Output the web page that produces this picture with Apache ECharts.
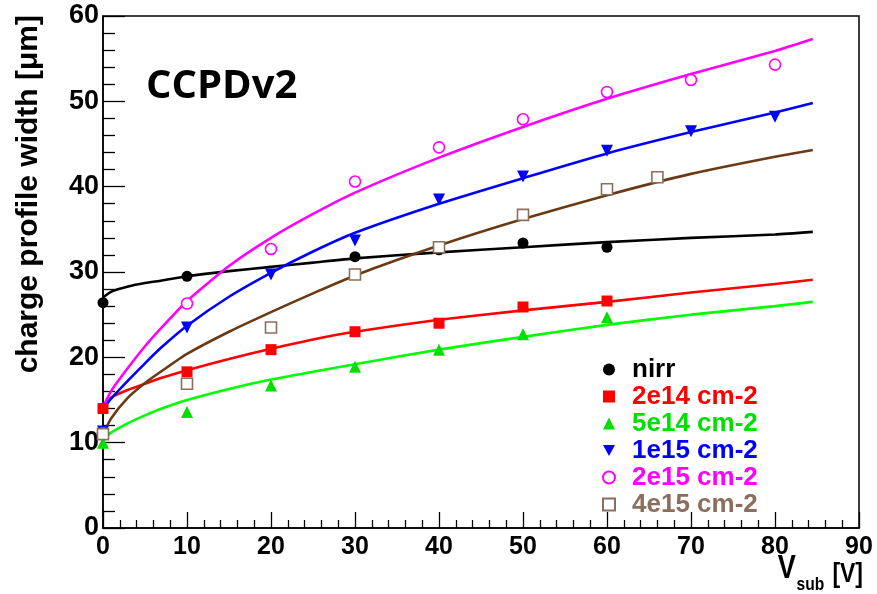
<!DOCTYPE html>
<html>
<head>
<meta charset="utf-8">
<script src="https://cdn.jsdelivr.net/npm/echarts@6/dist/echarts.min.js"></script>
<style>html,body{margin:0;padding:0;background:#fff;}#c{width:877px;height:594px;}</style>
</head>
<body>
<div id="c"></div>
<script>
// ---- data ----
const seriesNames = ['nirr', '2e14 cm-2', '5e14 cm-2', '1e15 cm-2', '2e15 cm-2', '4e15 cm-2'];

const nirrX = [0, 10, 30, 40, 50, 60];
const nirrY = [26.4, 29.5, 31.8, 32.6, 33.4, 32.9];
const e214X = [0, 10, 20, 30, 40, 50, 60];
const e214Y = [14.0, 18.3, 20.9, 23.0, 24.0, 25.9, 26.6];
const e514X = [0, 10, 20, 30, 40, 50, 60];
const e514Y = [10.0, 13.6, 16.7, 18.9, 20.9, 22.7, 24.7];
const e115X = [0, 10, 20, 30, 40, 50, 60, 70, 80];
const e115Y = [11.3, 23.5, 29.7, 33.7, 38.5, 41.2, 44.2, 46.5, 48.2];
const e215X = [0, 10, 20, 30, 40, 50, 60, 70, 80];
const e215Y = [11.1, 26.3, 32.7, 40.6, 44.6, 47.9, 51.1, 52.5, 54.3];
const e415X = [0, 10, 20, 30, 40, 50, 60, 66];
const e415Y = [11.0, 16.9, 23.5, 29.7, 32.9, 36.7, 39.7, 41.1];

// fitted curves
const fitX    = [0, 1, 3, 5, 7, 10, 15, 20, 25, 30, 40, 50, 60, 70, 80, 84.5];
const fitNirr = [27.0, 27.7, 28.3, 28.7, 29.0, 29.5, 30.1, 30.6, 31.1, 31.6, 32.3, 32.9, 33.5, 34.0, 34.4, 34.7];
const fit214  = [14.2, 15.3, 16.2, 16.9, 17.6, 18.5, 19.8, 21.0, 22.1, 23.0, 24.4, 25.5, 26.5, 27.6, 28.6, 29.1];
const fit514  = [10.2, 11.2, 12.3, 13.2, 14.0, 15.0, 16.3, 17.4, 18.3, 19.2, 20.9, 22.4, 23.8, 25.0, 26.0, 26.5];
const fit115  = [14.0, 15.2, 17.3, 19.3, 21.2, 23.7, 27.1, 29.9, 32.4, 34.6, 38.0, 41.0, 43.9, 46.4, 48.7, 49.8];
const fit215  = [14.2, 16.1, 18.8, 21.3, 23.5, 26.6, 30.7, 34.0, 36.8, 39.3, 43.4, 47.0, 50.3, 53.2, 55.9, 57.3];
const fit415  = [11.0, 12.9, 15.3, 17.0, 18.4, 20.4, 23.0, 25.3, 27.5, 29.6, 33.1, 36.2, 39.0, 41.5, 43.5, 44.3];

const xTicks = [0, 10, 20, 30, 40, 50, 60, 70, 80, 90];
const yTicks = [0, 10, 20, 30, 40, 50, 60];

// ---- styling ----
const markerColors = ['#000000', '#ff0000', '#00e000', '#0000ff', '#ff00ff', '#8c6e5c'];
const textColors   = ['#000000', '#ff0000', '#00e000', '#0000ff', '#ff00ff', '#8c6e5c'];
const lineColors   = ['#000000', '#ff0000', '#00ff00', '#0000ff', '#ff00ff', '#6b3a14'];
const downTri = 'path://M0,0L10,0L5,9Z';

function pairs(xs, ys) { return xs.map((x, i) => [x, ys[i]]); }

const pts = [
  { x: nirrX, y: nirrY, symbol: 'circle', size: 11, hollow: false },
  { x: e214X, y: e214Y, symbol: 'rect', size: 11, hollow: false },
  { x: e514X, y: e514Y, symbol: 'triangle', size: 12, hollow: false },
  { x: e115X, y: e115Y, symbol: downTri, size: 12, hollow: false },
  { x: e215X, y: e215Y, symbol: 'circle', size: 11, hollow: true },
  { x: e415X, y: e415Y, symbol: 'rect', size: 11, hollow: true }
];
const fits = [fitNirr, fit214, fit514, fit115, fit215, fit415];

const series = [];
fits.forEach((f, i) => {
  series.push({
    name: seriesNames[i] + ' fit',
    type: 'line',
    data: pairs(fitX, f),
    smooth: 0.2,
    showSymbol: false,
    symbol: 'none',
    silent: true,
    z: 3,
    lineStyle: { color: lineColors[i], width: 2.6 }
  });
});
pts.forEach((p, i) => {
  series.push({
    name: seriesNames[i],
    type: 'scatter',
    data: pairs(p.x, p.y),
    symbol: p.symbol,
    symbolSize: p.size,
    z: 4,
    itemStyle: p.hollow
      ? { color: '#ffffff', borderColor: markerColors[i], borderWidth: 1.6, opacity: 1 }
      : { color: markerColors[i], opacity: 1 }
  });
});

const chart = echarts.init(document.getElementById('c'));
chart.setOption({
  animation: false,
  backgroundColor: '#ffffff',
  title: {
    text: 'CCPDv2',
    left: 141, top: 62,
    textStyle: { fontFamily: 'Open Sans', fontWeight: 'bold', fontSize: 40, color: '#000' }
  },
  grid: {
    left: 103, right: 18, top: 16, bottom: 66,
    show: true, borderColor: '#000', borderWidth: 1.5, backgroundColor: 'transparent'
  },
  legend: {
    orient: 'vertical',
    left: 602, top: 356,
    padding: 0,
    itemGap: 0,
    itemWidth: 12, itemHeight: 12,
    selectedMode: false,
    data: seriesNames.map((n, i) => ({
      name: n,
      icon: i === 3 ? downTri : undefined,
      itemStyle: { opacity: 1 },
      textStyle: { color: textColors[i] }
    })),
    textStyle: {
      fontFamily: 'Liberation Sans', fontWeight: 'bold', fontSize: 26,
      lineHeight: 25, padding: [0, 0, 2, 12]
    }
  },
  xAxis: {
    type: 'value', min: 0, max: 90, interval: 10,
    axisLine: { show: true, onZero: false, lineStyle: { color: '#000', width: 1.5 } },
    axisTick: { show: true, inside: true, length: 16, lineStyle: { color: '#000', width: 1.3 } },
    minorTick: { show: true, splitNumber: 5, length: 8, lineStyle: { color: '#000', width: 1.3 } },
    splitLine: { show: false },
    axisLabel: {
      margin: 7, color: '#000', fontFamily: 'Liberation Sans', fontWeight: 'bold', fontSize: 25,
      formatter: v => xTicks.includes(v) ? String(v) : ''
    }
  },
  yAxis: {
    type: 'value', min: 0, max: 60, interval: 10,
    axisLine: { show: true, onZero: false, lineStyle: { color: '#000', width: 1.5 } },
    axisTick: { show: true, inside: true, length: 22, lineStyle: { color: '#000', width: 1.3 } },
    minorTick: { show: true, splitNumber: 5, length: 12, lineStyle: { color: '#000', width: 1.3 } },
    splitLine: { show: false },
    axisLabel: {
      margin: 4, color: '#000', fontFamily: 'Liberation Sans', fontWeight: 'bold', fontSize: 27,
      formatter: v => yTicks.includes(v) ? String(v) : ''
    }
  },
  graphic: [
    {
      type: 'text', x: 29, y: 15, rotation: Math.PI / 2,
      style: {
        text: 'charge profile width [μm]', textAlign: 'right', textVerticalAlign: 'middle',
        fontFamily: 'Liberation Sans', fontWeight: 'bold', fontSize: 30, fill: '#000'
      }
    },
    {
      type: 'group', x: 863, y: 0, scaleX: 0.82,
      children: [
        { type: 'text', x: -82, y: 585,
          style: { text: 'V', textAlign: 'right', textVerticalAlign: 'bottom',
            fontFamily: 'Liberation Sans', fontWeight: 'bold', fontSize: 33, fill: '#000' } },
        { type: 'text', x: -81, y: 594,
          style: { text: 'sub', textAlign: 'left', textVerticalAlign: 'bottom',
            fontFamily: 'Liberation Sans', fontWeight: 'bold', fontSize: 19, fill: '#000' } },
        { type: 'text', x: 0, y: 588,
          style: { text: '[V]', textAlign: 'right', textVerticalAlign: 'bottom',
            fontFamily: 'Liberation Sans', fontWeight: 'bold', fontSize: 28, fill: '#000' } }
      ]
    }
  ],
  series: series
});
</script>
</body>
</html>
